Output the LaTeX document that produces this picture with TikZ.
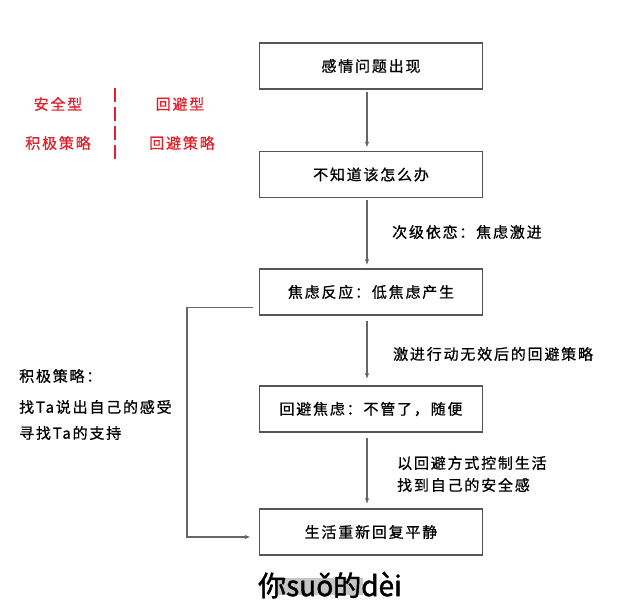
\documentclass[tikz,border=0pt]{standalone}
\usepackage{fontspec}
\setmainfont{Noto Sans CJK SC}[LetterSpace=12,FakeBold=0.7]
\newfontfamily\capfont{Noto Sans CJK SC}[FakeBold=1.6]
\usepackage{xcolor}
\usepackage{tikz}
\usetikzlibrary{arrows.meta,positioning,calc}
\definecolor{boxgray}{HTML}{555555}
\definecolor{flowgray}{HTML}{666666}
\definecolor{typered}{HTML}{E0202A}

\begin{document}
\begin{tikzpicture}[x=1pt,y=-1pt,
  box/.style={draw=boxgray,line width=1.5pt,minimum width=223pt,minimum height=46pt,inner sep=0pt,font=\fontsize{15}{18}\selectfont},
  flow/.style={draw=flowgray,line width=1.3pt,-{Latex[length=6pt,width=4.5pt]},shorten <=2pt,shorten >=3pt},
  note/.style={anchor=west,inner sep=0pt,font=\fontsize{15}{18}\selectfont},
  redlab/.style={inner sep=0pt,text=typered,font=\fontsize{15}{18}\selectfont}]
\useasboundingbox (0,0) rectangle (640,610);
\fill[white] (0,0) rectangle (640,610);

% main chain
\node[box] (b1) at (371,66) {感情问题出现};
\node[box] (b2) at (371,174.5) {不知道该怎么办};
\node[box] (b3) at (371,292) {焦虑反应：低焦虑产生};
\node[box] (b4) at (371,409) {回避焦虑：不管了，随便};
\node[box] (b5) at (371,532) {生活重新回复平静};

\draw[flow] ([xshift=-4pt]b1.south) -- ([xshift=-4pt]b2.north);
\draw[flow] ([xshift=-4pt]b2.south) -- ([xshift=-4pt]b3.north);
\draw[flow,shorten <=5pt,shorten >=6pt] ([xshift=-4pt]b3.south) -- ([xshift=-4pt]b4.north);
\draw[flow,shorten <=5pt,shorten >=4pt] ([xshift=-4pt]b4.south) -- ([xshift=-4pt]b5.north);

% side labels
\node[note] (l1) at (392,232) {次级依恋：焦虑激进};
\node[note] (l2) at (393,354) {激进行动无效后的回避策略};
\node[note] (l3) at (397,463) {以回避方式控制生活};
\node[note] (l4) at (397,485) {找到自己的安全感};

% loop back
\coordinate (lp) at (187,0);
\draw[flow,shorten <=0pt,shorten >=0pt] ([shift={(-6pt,8pt)}]b3.south west) -- ([yshift=8pt]b3.south west -| lp)
  -- ([yshift=-5pt]b5.west -| lp) -- ([shift={(-8pt,-5pt)}]b5.west);
\node[note] (p1) at (19,376) {积极策略：};
\node[note] (p2) at (19,407) {找Ta说出自己的感受};
\node[note] (p3) at (19,433) {寻找Ta的支持};

% types
\foreach \n/\p/\lab in {t1/{(58,104)}/安全型,t2/{(180,104)}/回避型,t3/{(58,143)}/积极策略,t4/{(182,143)}/回避策略}{
  \node[redlab] (\n) at \p {\lab};
}
\draw[typered,line width=1.5pt,dash pattern=on 14pt off 5pt] (115,88) -- (115,163);

% caption
\fill[gray!45] (277,578) rectangle (363,595);
\node[inner sep=0pt,font=\capfont\fontsize{28}{32}\selectfont] (cap) at (330,585) {你suǒ的dèi};
\end{tikzpicture}
\end{document}
